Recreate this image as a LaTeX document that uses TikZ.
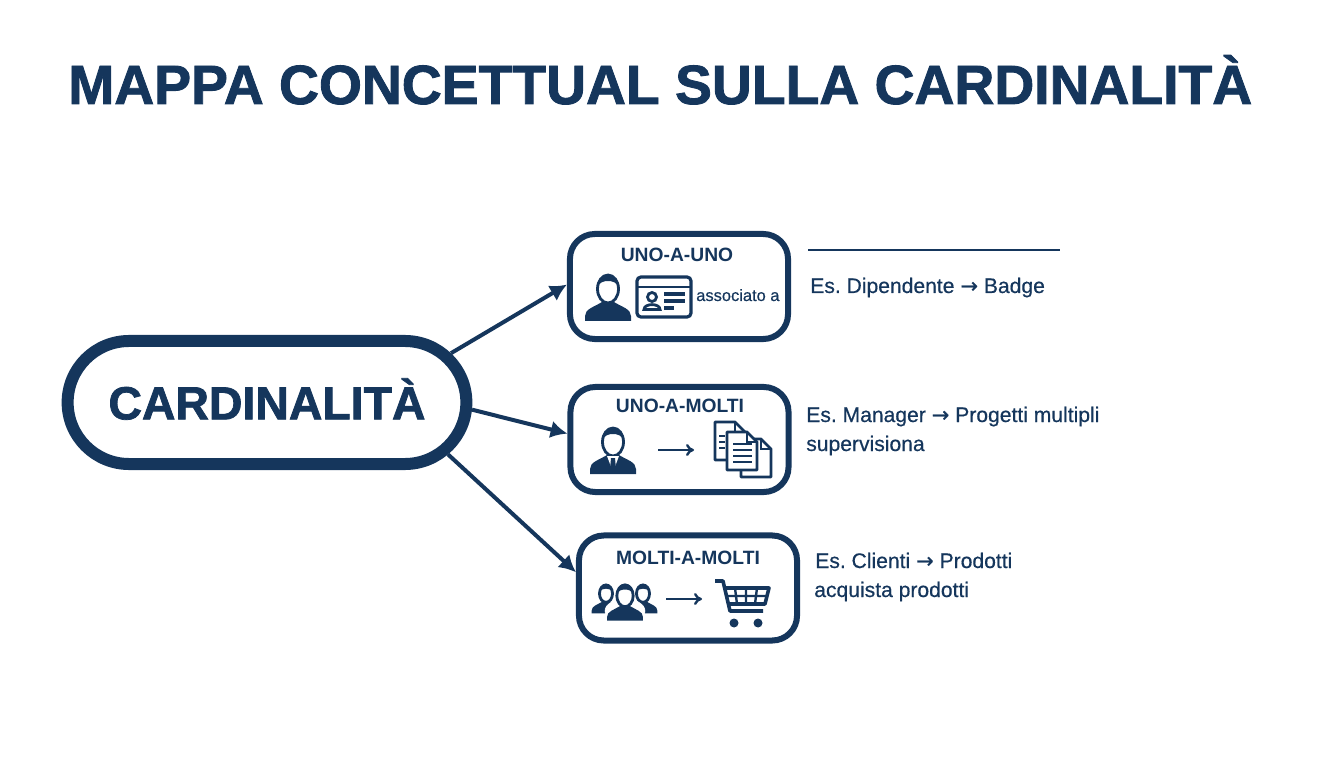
\documentclass[tikz,border=0pt]{standalone}
\usepackage{fontspec}
\setmainfont{Liberation Sans}
\newfontfamily\heavyfont{Liberation Sans Bold}[FakeBold=1.6]
\newfontfamily\midfont{Liberation Sans}[FakeBold=0.5]
\newfontfamily\arrowfont{DejaVu Sans}[FakeBold=0.5]
\usetikzlibrary{arrows.meta,shapes.misc}
\definecolor{navy}{HTML}{15365C}
\newcommand{\toarrow}{{\arrowfont →}}
\frenchspacing
\begin{document}
\begin{tikzpicture}[x=0.025cm, y=-0.025cm, navy, text=navy,
    title node/.style={anchor=base west,inner sep=0pt,font=\heavyfont\fontsize{39.3}{42}\selectfont},
    main node/.style={rounded rectangle,draw,line width=0.3cm,fill=white,minimum width=10.2cm,minimum height=3.075cm,text height=24pt,text depth=0pt,font=\heavyfont\fontsize{33}{36}\selectfont},
    kind node/.style={rectangle,draw,line width=0.15cm,rounded corners=0.62cm,minimum width=5.45cm,minimum height=2.625cm},
    head node/.style={font=\fontsize{13.7}{15}\bfseries},
    note node/.style={anchor=base west,inner sep=0pt,font=\midfont\fontsize{15}{16}\selectfont},
    link/.style={-{Latex[length=0.42cm,width=0.44cm]},line width=0.1cm},
    flow/.style={-{To[length=0.2cm,width=0.3cm]},line width=0.06cm},
    bust/.pic={
        \fill (-23,33) -- (-23,28) .. controls (-23,21) and (-14,19) .. (-6,14) -- (6,14) .. controls (14,19) and (23,21) .. (23,28) -- (23,33) -- cycle;
        \filldraw[fill=white,draw=navy,line width=0.07cm] (0,1) ellipse (10.5 and 14);
        \fill (-11,0) .. controls (-13,-17) and (13,-17) .. (11,0) .. controls (9,-6) and (4,-7) .. (0,-7) .. controls (-4,-7) and (-9,-6) .. (-11,0) -- cycle;
    },
    suit/.pic={
        \pic {bust};
        \fill[white] (-6,15) -- (6,15) -- (0,31) -- cycle;
        \fill (-2,17) -- (2,17) -- (3,28) -- (0,32) -- (-3,28) -- cycle;
    },
    sheet/.pic={
        \filldraw[fill=white,draw=navy,line width=0.07cm,line join=round] (0,0) -- (20,0) -- (30,10) -- (30,38) -- (0,38) -- cycle;
        \draw[line width=0.06cm] (20,0) -- (20,10) -- (30,10);
    }]
    \useasboundingbox (0,0) rectangle (1344,768);

    \node[title node] at (68,104) (title) {MAPPA CONCETTUAL SULLA CARDINALITÀ};

    \node[main node] at (267,402.5) (card) {CARDINALITÀ};
    \node[kind node] at (679,286.5) (uno) {};
    \node[kind node] at (679.5,439.5) (unomolti) {};
    \node[kind node] at (688,588) (moltimolti) {};

    \path[link] (card.15) edge (uno.179);
    \path[link] (card.-2) edge (unomolti.177);
    \path[link] (card.-16) edge (moltimolti.172);

    \node[head node] at (677,255) (unolabel) {UNO-A-UNO};
    \node[head node] at (680,406) (unomoltilabel) {UNO-A-MOLTI};
    \node[head node] at (688,558) (moltilabel) {MOLTI-A-MOLTI};

    \pic at (608,288) {bust};
    \draw[line width=0.08cm,rounded corners=0.1cm] (637,277) rectangle (691,317);
    \draw[line width=0.07cm] (637,287) -- (691,287);
    \draw[line width=0.07cm] (652,297) circle (4.5);
    \draw[line width=0.07cm] (644,309.5) .. controls (644,303) and (660,303) .. (660,309.5) -- cycle;
    \draw[line width=0.08cm] (664,294) -- (685,294) (664,301) -- (685,301) (664,308) -- (674,308);
    \node[anchor=base west,inner sep=0pt,font=\midfont\fontsize{11.7}{13}\selectfont] at (696,301) (assoc) {associato a};

    \pic at (613,441) {suit};
    \coordinate (s1) at (658,450);
    \coordinate (e1) at (694,450);
    \draw[flow] (s1) -- (e1);
    \pic at (715,422) {sheet};
    \pic at (741,439) {sheet};
    \pic at (727,432) {sheet};
    \foreach \y in {444,450,456,462} \draw[line width=0.07cm] (733,\y) -- (752,\y);
    \foreach \y in {436,442,448} \draw[line width=0.07cm] (719,\y) -- (725,\y);

    \pic[scale=0.62] at (606,593) {bust};
    \pic[scale=0.62] at (643,593) {bust};
    \filldraw[white] (625,611) ellipse (20 and 12);
    \pic[scale=0.78] at (625,595) {bust};
    \coordinate (s2) at (666,599);
    \coordinate (e2) at (702,599);
    \draw[flow] (s2) -- (e2);
    \draw[line width=0.09cm,line join=round] (715,581) -- (723,581) -- (730,611) -- (763,611);
    \draw[line width=0.09cm,line join=round] (724,588) -- (769,588) -- (765,604) -- (728,604);
    \draw[line width=0.06cm] (735,588) -- (737,604) (746,588) -- (746,604) (757,588) -- (755,604) (726,596) -- (767,596);
    \fill (734,623) circle (4.5) (758,623) circle (4.5);

    \coordinate (rulea) at (808,250);
    \coordinate (ruleb) at (1060,250);
    \draw[line width=0.06cm] (rulea) -- (ruleb);

    \node[note node] at (810,293) (note1) {Es. Dipendente \toarrow{} Badge};
    \node[note node] at (806,422) (note2) {Es. Manager \toarrow{} Progetti multipli};
    \node[note node] at (806,451) (note3) {supervisiona};
    \node[note node] at (815,568) (note4) {Es. Clienti \toarrow{} Prodotti};
    \node[note node] at (814,597) (note5) {acquista prodotti};
\end{tikzpicture}
\end{document}
